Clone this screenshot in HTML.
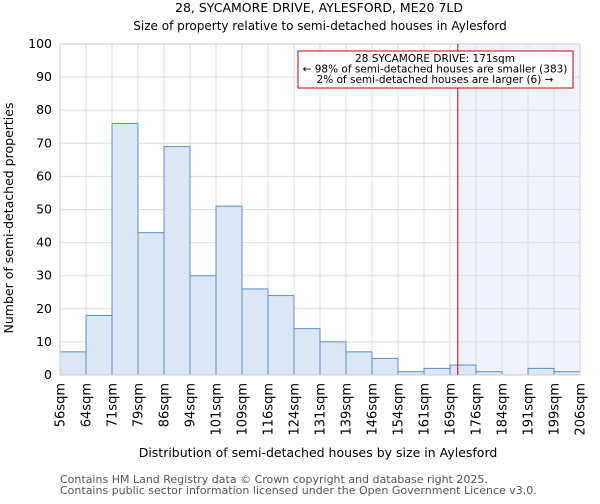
<!DOCTYPE html>
<html><head><meta charset="utf-8"><style>
body{margin:0;background:#fff;font-family:"DejaVu Sans","Liberation Sans",sans-serif;}
svg text{font-family:"DejaVu Sans","Liberation Sans",sans-serif;}
</style></head><body>
<svg id="c" width="600" height="500" xmlns="http://www.w3.org/2000/svg">
<text x="319" y="12" font-size="12.5" text-anchor="middle">28, SYCAMORE DRIVE, AYLESFORD, ME20 7LD</text>
<text x="320" y="30" font-size="12" text-anchor="middle">Size of property relative to semi-detached houses in Aylesford</text>
<g id="plot"></g>
<text x="318" y="457" font-size="12.5" text-anchor="middle">Distribution of semi-detached houses by size in Aylesford</text>
<text x="13" y="218" font-size="12.5" text-anchor="middle" transform="rotate(-90 13 218)">Number of semi-detached properties</text>
<text x="60" y="483" font-size="11" fill="#555">Contains HM Land Registry data © Crown copyright and database right 2025.</text>
<text x="60" y="494" font-size="11" fill="#555">Contains public sector information licensed under the Open Government Licence v3.0.</text>
</svg>
<script>
const binLabels=["56sqm","64sqm","71sqm","79sqm","86sqm","94sqm","101sqm","109sqm","116sqm","124sqm","131sqm","139sqm","146sqm","154sqm","161sqm","169sqm","176sqm","184sqm","191sqm","199sqm","206sqm"];
const counts=[7,18,76,43,69,30,51,26,24,14,10,7,5,1,2,3,1,0,2,1];
const yTicks=[0,10,20,30,40,50,60,70,80,90,100];
const markerBin=15.3;
const NS="http://www.w3.org/2000/svg";
const X0=60,X1=580,Y0=375,Y1=44;
const xs=i=>X0+i*(X1-X0)/counts.length;
const ys=v=>Y0-v*(Y0-Y1)/100;
const g=document.getElementById('plot');
function mk(t,a){const e=document.createElementNS(NS,t);for(const k in a)e.setAttribute(k,a[k]);g.appendChild(e);return e;}
const mx=xs(markerBin);
let e=mk('rect',{x:mx,y:Y1,width:X1-mx,height:Y0-Y1,fill:'#f0f3fb'});


yTicks.forEach(v=>{
 let l=mk('line',{x1:X0,x2:X1,y1:ys(v),y2:ys(v),stroke:'#ddd'});
 
 
 let t=mk('text',{x:X0-8,y:ys(v)+4,'font-size':12.5,'text-anchor':'end'});t.textContent=v;
 
 
});
binLabels.forEach((s,i)=>{
 let l=mk('line',{x1:xs(i),x2:xs(i),y1:Y1,y2:Y0,stroke:'#ddd'});
 
 
 let x=xs(i)+4.5,y=Y0+8;
 let t=mk('text',{x:x,y:y,'font-size':13,'text-anchor':'end',transform:`rotate(-90 ${x} ${y})`});t.textContent=s;
 
 
});
counts.forEach((v,i)=>{
 let r=mk('rect',{x:xs(i),y:ys(v),width:xs(i+1)-xs(i),height:Y0-ys(v),fill:'#dce6f4',stroke:'#5b8fd6','stroke-width':1});
 
 
});
e=mk('rect',{x:X0,y:Y1,width:X1-X0,height:Y0-Y1,fill:'none',stroke:'#ccc'});


e=mk('line',{x1:mx,x2:mx,y1:Y1,y2:Y0,stroke:'#cc0000','stroke-width':1});


e=mk('rect',{x:298,y:51,width:275,height:37,fill:'#fff',stroke:'#cc0000'});


["28 SYCAMORE DRIVE: 171sqm","← 98% of semi-detached houses are smaller (383)","2% of semi-detached houses are larger (6) →"].forEach((s,i)=>{
 let t=mk('text',{x:435,y:62+i*10.5,'font-size':10.5,'text-anchor':'middle'});t.textContent=s;
 
 
});
</script>
</body></html>
